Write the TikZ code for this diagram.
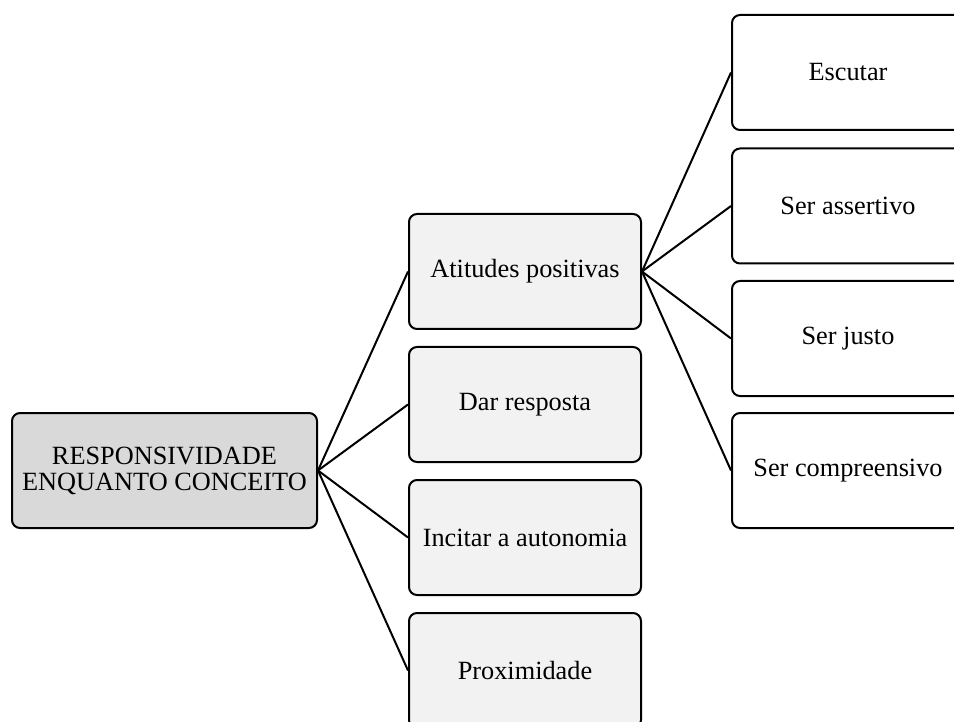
\documentclass[tikz,border=0pt]{standalone}
\usepackage{fontspec}
\setmainfont{Liberation Serif}
\begin{document}
\begin{tikzpicture}[x=1pt,y=-1pt,
  box/.style={draw=black, line width=2pt, rounded corners=8pt, minimum height=115pt, inner sep=2pt, align=center, font=\fontsize{26.3}{26}\selectfont},
  rootbox/.style={box, fill=gray!30!white, minimum width=305pt},
  midbox/.style={box, fill=black!5, minimum width=232pt},
  leafbox/.style={box, fill=white, minimum width=232pt},
  link/.style={draw=black, line width=2pt}]
\useasboundingbox (0,0) rectangle (954,722);
\clip (0,0) rectangle (954,722);
\node[rootbox] (root) at (164.5,470.5) {RESPONSIVIDADE\\ENQUANTO CONCEITO};
\node[midbox] (a) at (525,271.5) {Atitudes positivas};
\node[midbox] (b) at (525,404.5) {Dar resposta};
\node[midbox] (c) at (525,537.5) {Incitar a autonomia};
\node[midbox] (d) at (525,670.5) {Proximidade};
\node[leafbox] (e) at (848,72.5) {Escutar};
\node[leafbox] (f) at (848,206) {Ser assertivo};
\node[leafbox] (g) at (848,338.5) {Ser justo};
\node[leafbox] (h) at (848,470.5) {Ser compreensivo};
\foreach \t in {a,b,c,d} \draw[link] (root.east) -- (\t.west);
\foreach \t in {e,f,g,h} \draw[link] (a.east) -- (\t.west);
\end{tikzpicture}
\end{document}
